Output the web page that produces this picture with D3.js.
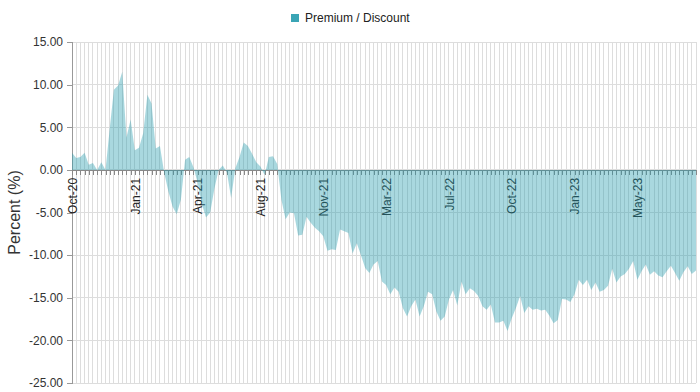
<!DOCTYPE html>
<html>
<head>
<meta charset="utf-8">
<script src="https://cdn.jsdelivr.net/npm/d3@7"></script>
<style>
  body { margin: 0; background: #fff; }
  svg { display: block; font-family: "Liberation Sans", Arial, sans-serif; }
</style>
</head>
<body>
<svg id="chart" width="700" height="392"></svg>
<script>
// ---- data ----
const seriesName = "Premium / Discount";
const values = [
  2.0, 1.4, 1.5, 2.0, 0.6, 0.8, 0.0, 0.9, 0.0, 4.8,
  9.4, 9.9, 11.5, 3.8, 5.9, 2.3, 2.6, 4.3, 8.8, 7.8,
  2.5, 2.8, -0.3, -2.5, -4.3, -5.2, -3.5, 1.2, 1.5, 0.3,
  -1.5, -4.0, -5.6, -5.0, -2.2, 0.0, 0.5, -0.3, -3.3, 0.2,
  1.5, 3.2, 2.8, 1.9, 0.9, 0.4, -0.6, 1.5, 1.6, 0.7,
  -3.5, -5.8, -5.0, -5.1, -7.7, -7.6, -5.5, -6.2, -6.8, -7.2,
  -7.8, -9.5, -9.3, -9.4, -7.0, -7.2, -7.4, -9.8, -8.6, -10.0,
  -11.5, -12.1, -11.1, -10.7, -13.1, -13.5, -14.6, -13.8, -14.3, -16.2,
  -17.2, -16.0, -15.2, -17.2, -16.0, -14.3, -14.6, -16.6, -17.7, -17.2,
  -15.2, -14.1, -15.9, -13.1, -14.6, -13.9, -14.2, -14.8, -16.0, -16.4,
  -15.8, -17.9, -17.9, -17.7, -18.9, -17.4, -16.2, -14.8, -16.8, -16.0,
  -16.4, -16.3, -16.5, -16.4, -17.1, -18.0, -17.6, -15.15, -15.2, -15.5,
  -14.6, -12.9, -13.5, -12.9, -14.1, -13.2, -14.3, -14.1, -13.6, -11.6,
  -13.2, -12.5, -12.2, -11.6, -10.7, -12.9, -11.9, -11.1, -12.3, -11.9,
  -12.4, -12.6, -11.9, -11.25, -12.1, -13.0, -12.0, -11.3, -12.2, -11.8
];
const categories = d3.range(values.length); // weekly observations
const tickLabels = ["Oct-20", "Jan-21", "Apr-21", "Aug-21", "Nov-21", "Mar-22", "Jul-22", "Oct-22", "Jan-23", "May-23"];
const labelStep = 15;
const yTicks = [15, 10, 5, 0, -5, -10, -15, -20, -25];
const yTitle = "Percent (%)";

// ---- layout ----
const mLeft = 72, mRight = 696, mTop = 42, mBottom = 383;
const fillColor = "rgb(40,157,175)";

const svg = d3.select("#chart");
const x = d3.scalePoint().domain(categories).range([mLeft, mRight]);
const y = d3.scaleLinear().domain([-25, 15]).range([mBottom, mTop]);

const labelMap = new Map(tickLabels.map((t, i) => [categories[i * labelStep], t]));

// grid
const grid = svg.append("g");
grid.selectAll("line.v").data(categories).join("line").attr("class", "v")
  .attr("x1", d => x(d)).attr("x2", d => x(d))
  .attr("y1", mTop).attr("y2", mBottom)
  .attr("stroke", "#dddddd").attr("stroke-width", 1).attr("shape-rendering", "crispEdges");
grid.selectAll("line.h").data(yTicks).join("line").attr("class", "h")
  .attr("x1", mLeft).attr("x2", mRight)
  .attr("y1", d => y(d)).attr("y2", d => y(d))
  .attr("stroke", "#dddddd").attr("stroke-width", 1).attr("shape-rendering", "crispEdges");

// y axis
const yAxis = svg.append("g").attr("transform", `translate(${mLeft},0)`)
  .call(d3.axisLeft(y).tickValues(yTicks).tickFormat(d => d.toFixed(2)).tickSize(5).tickPadding(4));
yAxis.select(".domain").attr("stroke", "#999").attr("shape-rendering", "crispEdges");
yAxis.selectAll(".tick line").attr("stroke", "#999").attr("shape-rendering", "crispEdges");
yAxis.selectAll("text").attr("font-size", 12).attr("fill", "#333")
  .attr("font-family", "'Liberation Sans', Arial, sans-serif");

// x axis at zero
const xAxis = svg.append("g").attr("transform", `translate(0,${y(0)})`)
  .call(d3.axisBottom(x).tickSize(5).tickSizeOuter(0).tickFormat(d => labelMap.get(d) || ""));
xAxis.select(".domain").attr("stroke", "#888").attr("shape-rendering", "crispEdges");
xAxis.selectAll(".tick line").attr("stroke", "#888").attr("shape-rendering", "crispEdges");
xAxis.selectAll("text")
  .attr("font-size", 12).attr("fill", "#222")
  .attr("font-family", "'Liberation Sans', Arial, sans-serif")
  .attr("text-anchor", "end")
  .attr("transform", "rotate(-90)")
  .attr("x", -8).attr("y", 0).attr("dy", "0.35em");

// area
const area = d3.area()
  .x((d, i) => x(categories[i]))
  .y0(y(0))
  .y1(d => y(d));
svg.append("path").datum(values)
  .attr("d", area)
  .attr("fill", fillColor).attr("fill-opacity", 0.4);

// y title
svg.append("text")
  .attr("transform", `translate(20,${(mTop + mBottom) / 2}) rotate(-90)`)
  .attr("text-anchor", "middle")
  .attr("font-size", 16).attr("fill", "#333")
  .text(yTitle);

// legend
const lg = svg.append("g");
lg.append("rect").attr("x", 291).attr("y", 14).attr("width", 8).attr("height", 8)
  .attr("fill", "rgb(58,165,181)");
lg.append("text").attr("x", 305).attr("y", 22)
  .attr("font-size", 12).attr("fill", "#222").text(seriesName);
</script>
</body>
</html>
